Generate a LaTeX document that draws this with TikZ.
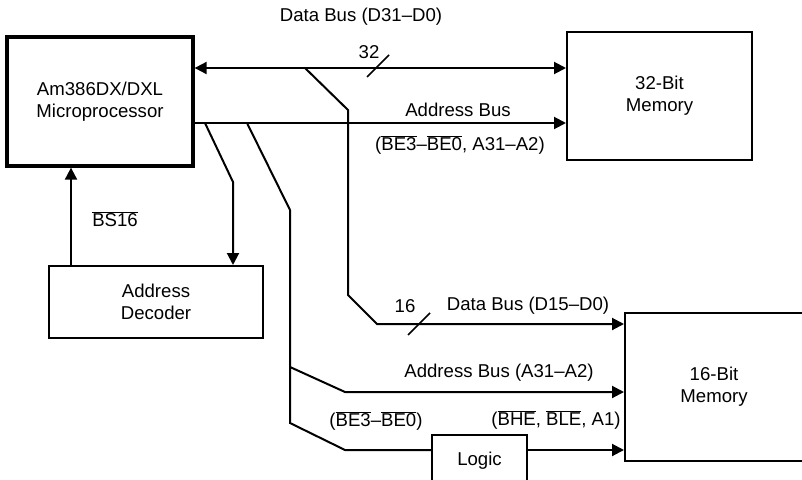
\documentclass[tikz,border=0pt]{standalone}
\usepackage{fontspec}
\setmainfont{Liberation Sans}
\usetikzlibrary{arrows.meta}
\newcommand{\ovl}[1]{$\overline{\mbox{#1}}$}
\begin{document}
\begin{tikzpicture}[x=1pt,y=-1pt, line width=2pt,
  font=\fontsize{18.6}{22}\selectfont,
  box/.style={draw, rectangle, inner sep=0pt, align=center},
  arr/.style={-{Triangle[length=12pt,width=12pt]}},
  barr/.style={{Triangle[length=12pt,width=12pt]}-{Triangle[length=12pt,width=12pt]}},
  lbl/.style={inner sep=0pt},
  slash/.style={line width=1.7pt}]
\useasboundingbox (0,0) rectangle (802,479);
\clip (0,0) rectangle (802,479);
% boxes
\node[box, line width=3.3pt, minimum width=186pt, minimum height=129pt] (mp) at (100,101.5) {Am386DX/DXL\\Microprocessor};
\node[box, minimum width=185pt, minimum height=128pt] (memA) at (659.5,96) {32-Bit\\Memory};
\node[box, minimum width=214pt, minimum height=72pt] (dec) at (156,302) {Address\\Decoder};
\node[box, minimum width=178pt, minimum height=148pt] (memB) at (714,387) {16-Bit\\Memory};
\node[box, minimum width=95pt, minimum height=52pt] (logic) at (479.5,461) {Logic};
% coordinates
\coordinate (d1) at (305,68);
\coordinate (d2) at (348,110);
\coordinate (d3) at (348,295);
\coordinate (d4) at (377,324);
\coordinate (a1) at (205,123);
\coordinate (a2) at (233,182);
\coordinate (b1) at (247,123);
\coordinate (b2) at (290,210);
\coordinate (b3) at (290,367);
\coordinate (b4) at (290,423);
\coordinate (c1) at (345,392);
\coordinate (c2) at (345,450);
% connectors
\draw[barr] (mp.east |- d1) -- (memA.west |- d1);
\draw[arr] (d1) -- (d2) -- (d3) -- (d4) -- (memB.west |- d4);
\draw[arr] (mp.east |- a1) -- (memA.west |- a1);
\draw[arr] (a1) -- (a2) -- (a2 |- dec.north);
\draw (b1) -- (b2) -- (b4) -- (c2) -- (logic.west |- c2);
\draw[arr] (b3) -- (c1) -- (memB.west |- c1);
\draw[arr] (logic.east |- c2) -- (memB.west |- c2);
\draw[arr] (71,0 |- dec.north) -- (71,0 |- mp.south);
% slashes
\draw[slash] (367,77) -- (389,55);
\draw[slash] (408,335) -- (430,313);
% labels
\node[lbl] at (361,17) {Data Bus (D31–D0)};
\node[lbl] at (369,52) {32};
\node[lbl] at (458,110) {Address Bus};
\node[lbl] at (460,145) {(\ovl{BE3}–\ovl{BE0}, A31–A2)};
\node[lbl] at (115,219) {\ovl{BS16}};
\node[lbl] at (405,306) {16};
\node[lbl] at (528,306) {Data Bus (D15–D0)};
\node[lbl] at (499,373) {Address Bus (A31–A2)};
\node[lbl] at (376,421) {(\ovl{BE3}–\ovl{BE0})};
\node[lbl] at (556,420) {(\ovl{BHE}, \ovl{BLE}, A1)};
\end{tikzpicture}
\end{document}
